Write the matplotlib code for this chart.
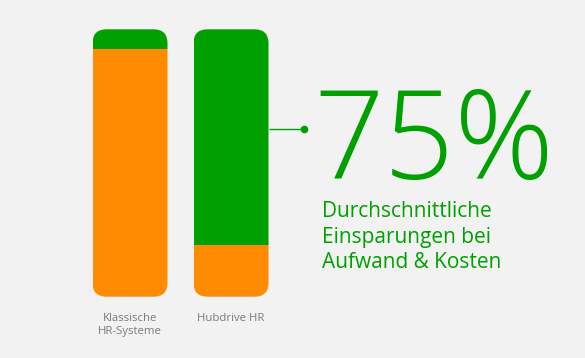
import matplotlib
matplotlib.use("Agg")
import matplotlib.pyplot as plt
from matplotlib.patches import FancyBboxPatch

# data (share of bar height, in %)
systems = ["Klassische\nHR-Systeme", "Hubdrive HR"]
aufwand = [92.5, 19.5]     # orange part (bottom)
rest = [7.5, 80.5]         # green part (top)
savings_label = "75%"
savings_text = "Durchschnittliche\nEinsparungen bei\nAufwand & Kosten"

GREEN = "#00a000"
ORANGE = "#ff8c00"
BG = "#f2f2f2"
GREY = "#7a7a7a"

W, H = 585, 358
fig = plt.figure(figsize=(W / 100, H / 100), dpi=100, facecolor=BG)
ax = fig.add_axes([0, 0, 1, 1])
ax.set_facecolor(BG)
ax.axis("off")

# x in pixels, y in percent: 0 -> 296.7px, 100 -> 29.3px from top
px_per_pct = (296.7 - 29.3) / 100
y0 = (H - 296.7) / px_per_pct
ax.set_xlim(0, W)
ax.set_ylim(-y0, (H / px_per_pct) - y0)

xpos = [130, 231]
bw = 75
b1 = ax.bar(xpos, aufwand, width=bw, color=ORANGE, linewidth=0)
b2 = ax.bar(xpos, rest, width=bw, bottom=aufwand, color=GREEN, linewidth=0)

# rounded outline used as clip
for i, x in enumerate(xpos):
    total = aufwand[i] + rest[i]
    clip = FancyBboxPatch((x - bw / 2, 0), bw, total,
                          boxstyle="round,pad=0,rounding_size=14",
                          mutation_aspect=1 / px_per_pct,
                          transform=ax.transData, facecolor="none", edgecolor="none")
    ax.add_patch(clip)
    b1[i].set_clip_path(clip)
    b2[i].set_clip_path(clip)
    ax.text(x, -16 / px_per_pct, systems[i], ha="center", va="top",
            fontsize=8.2, color=GREY, family="Open Sans", linespacing=1.3)

# connector line with dot
yc = (H - 129 - (H - 296.7)) / px_per_pct
ax.plot([xpos[1] + bw / 2, 304], [yc, yc], color=GREEN, lw=1, solid_capstyle="butt")
ax.plot([304], [yc], "o", color=GREEN, ms=4.5)

fig.text(313 / W, 1 - 179 / H, savings_label, ha="left", va="baseline",
         fontsize=89, color=GREEN, family="Open Sans", fontweight="light")
fig.text(322 / W, 1 - 268.3 / H, savings_text, ha="left", va="baseline",
         fontsize=15, color=GREEN, family="Open Sans", linespacing=1.3)

fig.savefig("out.png", dpi=100, facecolor=BG)
